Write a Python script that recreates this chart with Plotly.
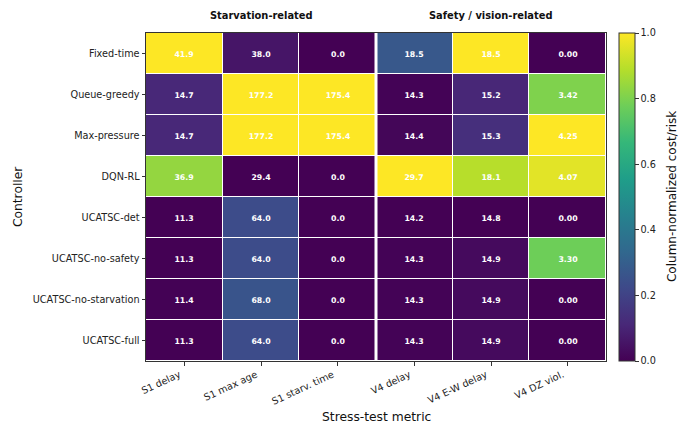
import plotly.graph_objects as go
import numpy as np

controllers = ["Fixed-time", "Queue-greedy", "Max-pressure", "DQN-RL",
               "UCATSC-det", "UCATSC-no-safety", "UCATSC-no-starvation", "UCATSC-full"]
metrics = ["S1 delay", "S1 max age", "S1 starv. time", "V4 delay", "V4 E-W delay", "V4 DZ viol."]

s1_delay = [41.9, 14.7, 14.7, 36.9, 11.3, 11.3, 11.4, 11.3]
s1_max_age = [38.0, 177.2, 177.2, 29.4, 64.0, 64.0, 68.0, 64.0]
s1_starv_time = [0.0, 175.4, 175.4, 0.0, 0.0, 0.0, 0.0, 0.0]
v4_delay = [18.5, 14.3, 14.4, 29.7, 14.2, 14.3, 14.3, 14.3]
v4_ew_delay = [18.5, 15.2, 15.3, 18.1, 14.8, 14.9, 14.9, 14.9]
v4_dz_viol = [0.00, 3.42, 4.25, 4.07, 0.00, 3.30, 0.00, 0.00]

columns = [s1_delay, s1_max_age, s1_starv_time, v4_delay, v4_ew_delay, v4_dz_viol]
decimals = [1, 1, 1, 1, 1, 2]
group_titles = ["Starvation-related", "Safety / vision-related"]
cbar_ticks = [0.0, 0.2, 0.4, 0.6, 0.8, 1.0]

raw = np.array(columns).T  # rows = controllers
norm = np.zeros_like(raw)
for j in range(raw.shape[1]):
    col = raw[:, j]
    rng = col.max() - col.min()
    norm[:, j] = (col - col.min()) / rng if rng > 0 else 0.0

text = [[f"{raw[i, j]:.{decimals[j]}f}" for j in range(len(metrics))] for i in range(len(controllers))]

FONT = "DejaVu Sans"
TICK = 9.7
fig = go.Figure(go.Heatmap(
    z=norm, x=metrics, y=controllers,
    text=text, texttemplate="<b>%{text}</b>",
    textfont=dict(family=FONT, size=7.8, color="white"),
    colorscale="Viridis", zmin=0, zmax=1,
    xgap=1, ygap=1,
    colorbar=dict(
        x=1.028, xanchor="left", xref="paper", y=0.5, yanchor="middle",
        len=1.0, lenmode="fraction", thickness=16, thicknessmode="pixels",
        xpad=0, ypad=0,
        outlinewidth=1, outlinecolor="#333",
        tickmode="array", tickvals=cbar_ticks,
        ticktext=[f"{t:.1f}" for t in cbar_ticks],
        ticks="outside", ticklen=3.5, tickcolor="#333",
        tickfont=dict(family=FONT, size=TICK, color="#222"),
    ),
    hoverinfo="skip",
))

# thick separator between the two metric groups
fig.add_shape(type="line", xref="x", yref="paper", x0=2.5, x1=2.5, y0=0, y1=1,
              line=dict(color="white", width=3))

for title, center in zip(group_titles, [1, 4]):
    fig.add_annotation(text=f"<b>{title}</b>", x=metrics[center], xref="x",
                       y=1.052, yref="paper", yanchor="middle", showarrow=False,
                       font=dict(family=FONT, size=9.9, color="#111"))

# axis titles as annotations (fixed positions)
fig.add_annotation(text="Controller", textangle=-90, xref="paper", yref="paper",
                   x=-0.278, y=0.5, xanchor="center", yanchor="middle", showarrow=False,
                   font=dict(family=FONT, size=12.3, color="#111"))
fig.add_annotation(text="Stress-test metric", xref="paper", yref="paper",
                   x=0.5, y=-0.172, xanchor="center", yanchor="middle", showarrow=False,
                   font=dict(family=FONT, size=12.3, color="#111"))
fig.add_annotation(text="Column-normalized cost/risk", textangle=-90, xref="paper", yref="paper",
                   x=1.1435, y=0.5, xanchor="center", yanchor="middle", showarrow=False,
                   font=dict(family=FONT, size=12.0, color="#111"))

fig.update_xaxes(
    automargin=False,
    tickangle=-25, ticks="outside", ticklen=3.5, tickcolor="#333",
    ticklabelshift=-5,
    tickfont=dict(family=FONT, size=TICK, color="#222"),
    showline=True, linecolor="#333", linewidth=1, mirror=True, showgrid=False, zeroline=False,
)
fig.update_yaxes(
    automargin=False,
    autorange="reversed", ticks="outside", ticklen=3.5, tickcolor="#333",
    tickfont=dict(family=FONT, size=TICK, color="#222"),
    showline=True, linecolor="#333", linewidth=1, mirror=True, showgrid=False, zeroline=False,
)

fig.update_layout(
    width=694, height=427,
    margin=dict(l=146, r=88, t=33, b=66),
    plot_bgcolor="white", paper_bgcolor="white",
    font=dict(family=FONT),
)

fig.write_html("out.html", config={"displayModeBar": False},
               post_script="document.body.style.margin='0';document.body.style.overflow='hidden';")
